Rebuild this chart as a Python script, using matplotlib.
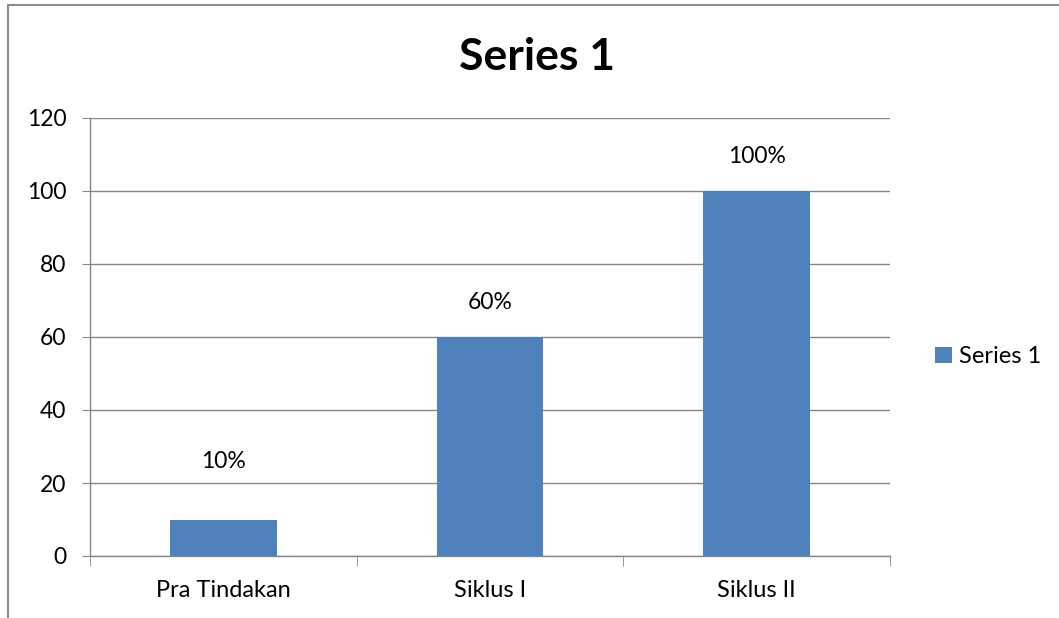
import matplotlib.pyplot as plt
from matplotlib.patches import Rectangle

# data
categories = ["Pra Tindakan", "Siklus I", "Siklus II"]
values = [10, 60, 100]
labels = ["10%", "60%", "100%"]
series_name = "Series 1"

plt.rcParams['font.family'] = ['Lato', 'DejaVu Sans']

fig = plt.figure(figsize=(10.59, 6.18), dpi=100)
ax = fig.add_axes([90 / 1059, 1 - 556 / 618, 800 / 1059, 438 / 618])

# outer chart frame (runs off the right and bottom of the image)
fig.patches.append(Rectangle((8 / 1059, -0.05), 1.2, 1 - 5 / 618 + 0.05,
                             transform=fig.transFigure, fill=False,
                             edgecolor="#8c8c8c", linewidth=1.5))

x = range(len(categories))
bars = ax.bar(x, values, width=0.4, color="#4f81bd", label=series_name, zorder=3)

# data labels
offsets = [42, 25, 25]
for b, lab, off in zip(bars, labels, offsets):
    ax.annotate(lab, (b.get_x() + b.get_width() / 2, b.get_height()),
                xytext=(0, off), textcoords="offset points",
                ha="center", va="center", fontsize=16.5)

ax.set_xlim(-0.5, 2.5)
ax.set_ylim(0, 120)
ax.set_yticks(range(0, 121, 20))
ax.tick_params(axis="y", labelsize=16.5, length=6, color="#868686", pad=11)
ax.set_xticks(list(x))
ax.set_xticklabels(categories, fontsize=17)
ax.tick_params(axis="x", length=0, pad=17)
# category boundary ticks
ax.set_xticks([-0.5, 0.5, 1.5, 2.5], minor=True)
ax.tick_params(axis="x", which="minor", length=7, color="#868686")

ax.grid(axis="y", color="#868686", linewidth=1, zorder=0)
for s in ["top", "right"]:
    ax.spines[s].set_visible(False)
for s in ["left", "bottom"]:
    ax.spines[s].set_color("#868686")
    ax.spines[s].set_linewidth(1)

fig.text(537 / 1059, 1 - 57 / 618, series_name, ha="center", va="center",
         fontsize=32, fontweight="bold")

ax.legend(loc="center left", bbox_to_anchor=(1.03, 0.455), frameon=False,
          fontsize=17, handlelength=0.7, handleheight=0.7, handletextpad=0.3)

fig.savefig("out.png", dpi=100)
